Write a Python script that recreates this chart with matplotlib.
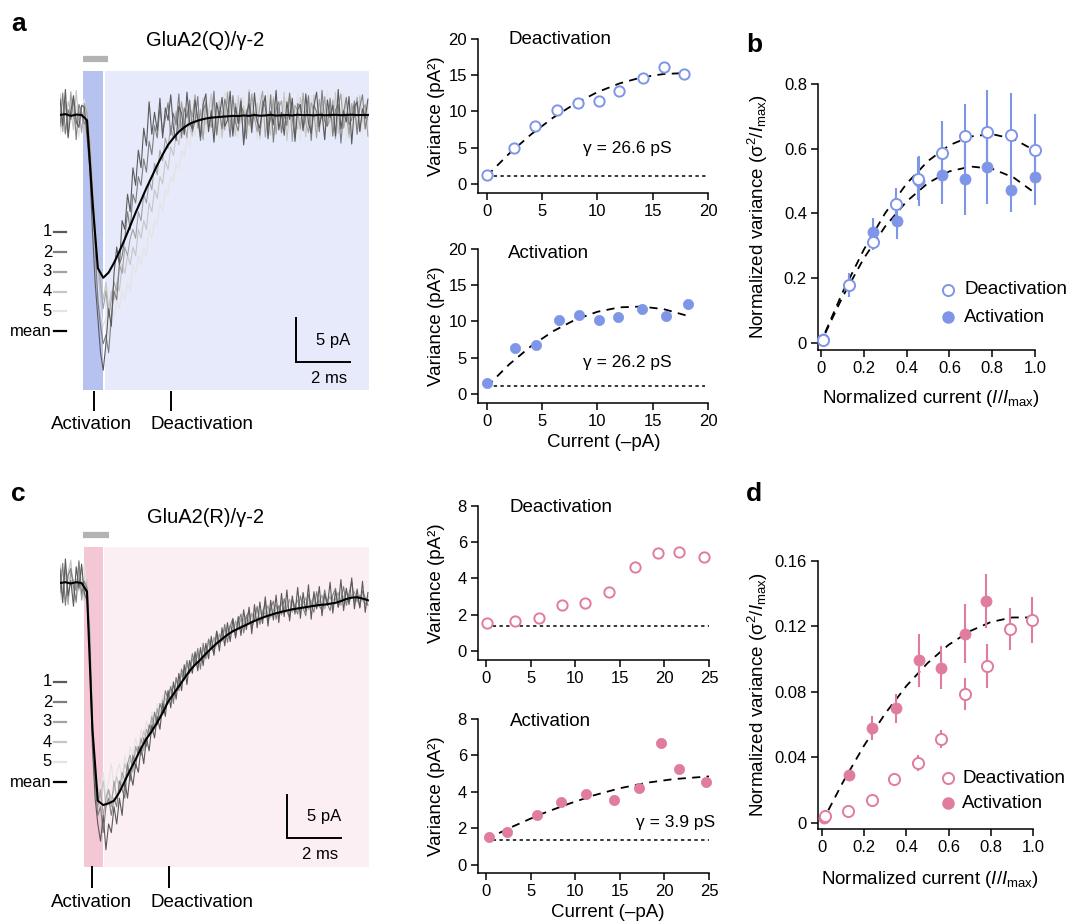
import numpy as np
import matplotlib
matplotlib.use("Agg")
import matplotlib.pyplot as plt
from matplotlib.lines import Line2D

plt.rcParams['font.family'] = ['Liberation Sans', 'DejaVu Sans']
plt.rcParams['mathtext.fontset'] = 'custom'
plt.rcParams['mathtext.rm'] = 'Liberation Sans'
plt.rcParams['mathtext.it'] = 'Liberation Sans:italic'
plt.rcParams['mathtext.sf'] = 'Liberation Sans'

# ---------------- data ----------------
DT_MEAN = 0.2   # ms per sample of the mean traces
DT_SWEEP = 0.1  # ms per sample of the single sweeps

# Panel a: GluA2(Q)/gamma-2 traces (pA)
trace_a_mean = [0, 0.1, -0.1, 0.05, 0,
                -0.6, -9.7, -17.4, -18.5, -17.9, -16.8, -15.5, -14.1, -12.6, -11.1, -9.7, -8.3, -7.0, -5.7, -4.5,
                -3.4, -2.6, -1.9, -1.4, -1.0, -0.75, -0.55, -0.4, -0.3, -0.25, -0.2,
                -0.15, -0.1, -0.12, -0.05, -0.1, 0.0, -0.08, -0.05, 0.02, -0.06, -0.03, 0.0, -0.05, 0.03,
                -0.02, 0.0, -0.04, 0.02, -0.03, 0.0, 0.02, -0.02, 0.0, 0.03, -0.01, 0.0, 0.01]
trace_a_sweep1 = [1.8, -1.2, 2.9, -2.6, 0.4, 2.2, -0.7, -1.4, 1.1, 0.9,
                  -2.4, -6, -13, -19, -23, -27, -29, -26, -22, -24,
                  -18, -15, -17, -12, -13, -9, -11, -6, -8, -4,
                  -6, -1.5, -3.5, 1.5, -2.2, 0.3, -1.8, 1.9, -2.6, 0.8,
                  -0.6, 2.3, -1.5, -2.9, 1.0, 0.2, -2.2, 2.6, -0.9, -1.6,
                  1.7, -0.4, -2.5, 1.2, 2.4, -1.9, 0.5, -3.1, 1.4, -0.2,
                  2.0, -1.3, -0.6, 2.7, -2.4, 0.9, -1.0, 1.6, -3.4, 0.1,
                  1.3, -2.0, 2.5, -0.8, -1.5, 0.7, 2.2, -2.7, 0.4, -1.1,
                  2.8, -1.7, 0.3, -2.3, 1.5, -0.5, 1.9, -3.0, 0.6, 1.2,
                  -1.8, 2.4, -0.9, -2.1, 1.0, 2.6, -1.3, 0.2, -2.8, 1.7,
                  -0.3, 1.1, -2.4, 2.9, -1.6, 0.5, -0.8, 2.1, -3.3, 0.9,
                  1.5, -1.9, 0.7, -0.4, 1.8]
trace_a_sweep2 = [-1.3, 2.5, -2.1, 0.6, -0.5, 1.9, -2.8, 1.2, 0.3, -1.0,
                  -0.8, -4, -9, -15, -21, -24, -26, -25, -27, -23,
                  -20, -21, -17, -16, -14, -11, -13, -9, -10, -7,
                  -8, -5, -6.5, -3, -4.5, -1.2, -2.6, 0.9, -2.1, -0.4,
                  1.4, -2.3, 0.2, -1.1, 2.4, -2.6, 0.8, -0.3, 1.7, -1.9,
                  -0.7, 2.1, -2.9, 0.6, 1.3, -1.4, -0.2, 2.7, -2.2, 0.4,
                  -1.6, 1.8, 0.5, -2.5, 2.2, -0.9, -1.8, 1.0, 0.3, -2.7,
                  2.6, -1.1, 0.2, -0.6, -2.3, 1.6, 0.9, -1.7, 2.3, -3.1,
                  0.7, 1.5, -2.0, 0.1, -1.2, 2.5, -0.4, -2.6, 1.3, 0.8,
                  -1.5, -0.2, 2.2, -2.9, 1.1, 0.4, -1.9, 2.8, -0.7, -1.3,
                  1.9, -2.4, 0.6, 1.2, -3.2, 0.3, 2.0, -1.1, -0.5, 1.6,
                  -2.2, 0.9, 2.3, -1.6, 0.0]
trace_a_sweep3 = [0.7, -1.9, 1.6, -2.4, 2.6, -0.3, -1.1, 0.8, -2.0, 1.3,
                  0.2, -3, -8, -13, -17, -19, -22, -20, -23, -21,
                  -19, -20, -17, -18, -15, -16, -14, -13, -14, -11,
                  -12, -9, -10, -7.5, -8.5, -5.5, -6.8, -4, -5.2, -2.6,
                  -3.8, -1.2, -2.7, 0.4, -1.8, 1.5, -0.9, -2.6, 1.1, -0.2,
                  2.3, -1.5, 0.6, -2.8, 1.7, -0.6, -1.4, 2.0, -2.3, 0.9,
                  0.2, -1.7, 2.6, -0.5, -2.1, 1.3, -0.8, 1.9, -2.9, 0.6,
                  -1.2, 2.4, -0.3, -1.9, 1.0, 2.7, -2.5, 0.1, -0.7, 1.8,
                  -2.2, 0.8, 1.6, -1.4, -0.1, 2.2, -3.0, 1.1, 0.5, -1.6,
                  2.5, -0.9, -2.0, 1.4, 0.3, -2.6, 1.8, -0.4, 2.1, -1.2,
                  -0.6, 1.7, -2.7, 0.9, 2.4, -1.5, 0.2, -2.2, 1.3, -0.3,
                  2.0, -1.8, 0.4, 1.2, -2.4]
trace_a_sweep4 = [2.4, -0.6, -2.2, 1.5, 0.4, -1.7, 2.8, -1.0, 0.1, -2.3,
                  1.0, -2, -7, -12, -16, -18, -21, -19, -22, -20,
                  -21, -19, -20, -17, -18, -16, -17, -15, -16, -13,
                  -14, -12, -13, -10, -11, -8.5, -9.5, -7, -7.8, -5.2,
                  -6.2, -3.6, -4.6, -2.2, -3.4, -0.8, -2.3, 0.6, -1.5, -2.4,
                  1.2, -0.5, -2.8, 1.9, -1.1, 0.3, 2.4, -2.0, -0.6, 1.6,
                  -2.6, 0.5, 1.7, -1.3, 0.0, -2.4, 2.2, -0.9, 1.0, -1.9,
                  2.9, -1.6, -0.3, 1.4, -2.7, 0.6, 1.9, -1.1, -2.3, 2.1,
                  -0.5, 0.9, -1.8, 2.6, -2.9, 0.4, 1.3, -0.7, -1.6, 2.0,
                  0.3, -2.5, 1.5, -0.8, 2.3, -1.3, -0.1, 1.8, -2.8, 0.7,
                  1.1, -1.4, 2.6, -2.1, 0.2, -0.9, 1.9, -2.6, 0.8, 0.4,
                  -1.7, 2.2, -0.6, -1.2, 1.4]
trace_a_sweep5 = [-2.1, 1.5, 0.2, -1.6, 2.7, -0.9, 1.1, -2.5, 0.6, 1.8,
                  -0.9, -4, -10, -15, -19, -22, -24, -23, -25, -22,
                  -23, -21, -22, -20, -21, -19, -20, -17, -18, -16,
                  -17, -15, -16, -13, -14, -12, -12.5, -10, -11, -8.5,
                  -9, -7, -7.5, -5.5, -6.2, -4, -4.8, -2.6, -3.5, -1.3,
                  -2.4, 0.2, -1.5, 1.6, -2.2, -0.4, 2.3, -1.2, 0.5, -2.7,
                  1.4, 2.6, -1.0, -2.1, 0.7, 1.6, -2.6, 0.2, 2.1, -0.8,
                  -1.9, 1.2, 0.4, -2.8, 2.4, -0.5, -1.3, 2.7, -2.0, 0.6,
                  1.7, -1.1, -2.4, 0.9, 2.0, -1.8, 0.3, -0.6, 2.5, -3.0,
                  1.0, 0.5, -1.7, 2.2, -0.9, -2.3, 1.6, 0.1, -1.2, 2.8,
                  -2.5, 0.7, 1.3, -1.0, -0.2, 2.4, -2.9, 1.1, 0.6, -1.5,
                  2.1, -0.7, -1.9, 1.5, 0.3]

# Panel c: GluA2(R)/gamma-2 traces (pA)
trace_c_mean = [0, 0.1, -0.05, 0.1, 0,
                -1.0, -17, -25.3, -25.8, -25.6, -25.3, -24.3, -23.0, -21.7, -20.5, -19.2, -18.1, -17.2, -16.2,
                -15.1, -13.8, -12.9, -12.0, -11.1, -10.2, -9.5, -8.9, -8.2, -7.6, -7.0, -6.5,
                -6.0, -5.6, -5.3, -5.0, -4.7, -4.4, -4.15, -3.9, -3.7, -3.5, -3.35, -3.2, -3.05, -2.95, -2.85,
                -2.75, -2.65, -2.55, -2.5, -2.4, -2.3, -2.1, -1.85, -1.7, -1.65, -1.8, -2.0]
trace_c_sweep1 = [1.6, -2.3, 2.8, -1.5, 0.3, -2.7, 1.9, -0.6, 2.2, -1.2,
                  -2.0, -8, -19, -25, -28, -30, -27, -31, -28, -29,
                  -26, -28, -25, -27, -23, -25, -22, -23.5, -21, -22,
                  -19, -21, -18, -19.5, -16.5, -18, -15.5, -17, -14, -15.5,
                  -12.5, -14.5, -11.5, -13.5, -10.5, -12.5, -9.5, -11.8, -9, -10.5,
                  -8, -10.2, -7.5, -9.6, -7, -8.8, -6.2, -8.4, -5.6, -7.9,
                  -5.2, -7.3, -4.6, -6.8, -4.2, -6.4, -3.9, -6.1, -3.1, -5.4,
                  -2.8, -5.9, -2.5, -5.2, -2.2, -4.7, -1.6, -5.0, -2.0, -4.3,
                  -1.4, -4.6, -1.2, -3.9, -0.8, -4.4, -1.5, -3.6, -0.5, -4.1,
                  -1.1, -3.3, -0.2, -4.2, -1.0, -3.0, -0.4, -3.8, -1.3, -2.6,
                  0.1, -3.5, -0.9, -2.8, 0.4, -3.2, -0.6, -2.5, 0.6, -3.0,
                  -0.7, -2.9, 0.2, -3.4, -1.1]
trace_c_sweep2 = [-1.1, 2.3, -2.6, 0.9, 1.7, -0.4, -2.2, 2.6, -1.3, 0.2,
                  -0.6, -6, -16, -23, -27, -26, -29, -26, -25, -27,
                  -25, -26, -23, -24, -25, -21, -23, -20, -21.5, -19,
                  -20, -18, -19, -16.5, -17.5, -15, -16.5, -14, -15, -12.5,
                  -13.5, -12, -14, -11, -12.5, -10, -11, -9, -10.5, -8.2,
                  -9.5, -7.6, -10, -7, -8.8, -6.5, -7.4, -8.2, -5.6, -7.0,
                  -6.6, -4.8, -6.9, -5.0, -4.1, -6.2, -4.5, -3.6, -5.8, -4.0,
                  -3.2, -5.3, -4.1, -2.7, -4.8, -3.5, -2.3, -4.6, -3.0, -2.1,
                  -4.2, -2.6, -3.7, -1.8, -3.3, -4.0, -1.9, -2.8, -3.6, -1.5,
                  -2.9, -3.8, -1.3, -2.5, -3.4, -1.0, -2.7, -3.1, -0.8, -2.4,
                  -3.2, -1.4, -0.6, -2.8, -1.9, -0.4, -2.6, -1.2, 0.2, -2.2,
                  -1.5, -2.8, -0.9, -1.7, -2.6]
trace_c_sweep3 = [0.5, -1.7, 1.9, -2.5, 1.4, 0.2, -0.9, 2.4, -2.0, -0.3,
                  -1.3, -7, -18, -24, -26, -24, -27, -25, -24, -26,
                  -23, -25, -24, -22, -23, -21, -20, -22, -19, -20,
                  -18, -19.5, -17, -17.8, -15.5, -16.8, -14.6, -15.8, -13.6, -14.5,
                  -13, -12.2, -13.5, -11, -12, -10.5, -11.2, -9.4, -10.4, -8.8,
                  -9.6, -8.2, -9.0, -7.6, -8.4, -6.8, -7.7, -6.3, -7.2, -5.9,
                  -6.8, -5.3, -6.2, -4.9, -5.6, -4.4, -5.3, -4.1, -4.9, -3.7,
                  -4.6, -3.5, -4.3, -2.9, -4.5, -3.3, -3.6, -2.6, -4.0, -3.1,
                  -2.5, -3.8, -2.2, -3.5, -2.8, -1.9, -3.4, -2.6, -2.0, -3.3,
                  -2.3, -1.7, -3.1, -2.4, -1.5, -2.9, -2.2, -1.4, -3.0, -2.0,
                  -1.6, -2.7, -1.9, -1.1, -2.6, -1.8, -0.9, -2.3, -1.5, -1.0,
                  -2.2, -1.4, -1.9, -2.5, -1.6]
trace_c_sweep4 = [2.1, -0.7, -2.3, 1.2, 2.6, -1.6, 0.5, -0.9, 1.8, -2.1,
                  0.4, -5, -15, -22, -24, -25, -23, -26, -24, -25,
                  -24, -22.5, -24, -23, -21, -22, -20.5, -21.5, -19, -19.8,
                  -18.5, -17.2, -18.3, -16.6, -16, -17, -15, -15.8, -14.3, -13.4,
                  -14, -12.6, -11.9, -12.8, -11.2, -10.6, -11.3, -9.9, -9.2, -10.1,
                  -9.0, -8.5, -9.1, -7.9, -7.4, -8.2, -7.0, -6.6, -7.4, -6.2,
                  -5.9, -6.5, -5.5, -5.1, -5.8, -4.8, -4.5, -5.3, -4.2, -4.0,
                  -4.7, -3.8, -3.6, -4.4, -3.4, -3.1, -4.0, -3.2, -2.8, -3.7,
                  -3.0, -2.7, -3.5, -2.8, -2.4, -3.3, -2.6, -2.3, -3.1, -2.5,
                  -2.2, -2.9, -2.4, -2.0, -2.8, -2.3, -1.9, -2.7, -2.2, -1.8,
                  -2.6, -2.0, -1.7, -2.4, -1.9, -1.5, -2.2, -1.6, -1.3, -2.0,
                  -1.7, -1.4, -2.1, -1.8, -2.3]
trace_c_sweep5 = [-1.9, 1.3, 0.6, -1.5, 2.7, -0.6, -2.4, 1.6, 0.1, 2.3,
                  -1.2, -7, -17, -21, -23, -24, -22, -25, -23, -21,
                  -24, -22, -21, -23, -20, -21.5, -19, -20, -18, -19.5,
                  -17, -18, -16, -17.2, -15, -16.5, -14, -15.2, -13, -14.4,
                  -12.4, -13.6, -11.4, -12.5, -10.6, -11.8, -9.8, -11, -9.2, -10.3,
                  -8.6, -9.8, -8.0, -9.2, -7.3, -8.5, -6.8, -8.0, -6.4, -7.3,
                  -5.8, -7.0, -5.3, -6.5, -4.8, -6.0, -4.6, -5.7, -4.2, -5.2,
                  -3.8, -5.0, -3.5, -4.6, -3.2, -4.4, -2.9, -4.1, -2.7, -3.8,
                  -2.6, -3.9, -2.3, -3.6, -2.1, -3.4, -2.0, -3.3, -1.8, -3.1,
                  -1.9, -3.2, -1.6, -3.0, -1.5, -2.9, -1.4, -2.8, -1.2, -2.6,
                  -1.3, -2.7, -1.1, -2.5, -0.9, -2.3, -0.8, -2.2, -1.0, -2.4,
                  -1.1, -2.6, -0.9, -2.3, -1.4]

sweep_labels = ['1', '2', '3', '4', '5', 'mean']

# Panel a, variance vs current
a_deact_I = [0.03, 2.42, 4.38, 6.31, 8.25, 10.18, 11.99, 14.08, 15.98, 17.82]
a_deact_var = [1.29, 4.92, 8.05, 10.25, 11.22, 11.45, 12.87, 14.57, 16.14, 15.13]
a_deact_fit_I = [0, 2, 4, 6, 8, 10, 12, 14, 16, 17.5]
a_deact_fit_var = [1.1, 4.16, 6.84, 9.15, 11.1, 12.67, 13.87, 14.71, 15.17, 15.27]
a_deact_base = 1.15
a_act_I = [0.03, 2.54, 4.47, 6.55, 8.33, 10.18, 11.9, 14.02, 16.19, 18.15]
a_act_var = [1.47, 6.31, 6.77, 10.23, 10.92, 10.23, 10.6, 11.75, 10.69, 12.44]
a_act_fit_I = [0, 2, 4, 6, 8, 10, 12, 14, 16, 18]
a_act_fit_var = [1.0, 4.05, 6.6, 8.66, 10.25, 11.34, 11.95, 12.06, 11.7, 10.84]
a_act_base = 1.1

# Panel c, variance vs current
c_deact_I = [0.11, 3.21, 5.9, 8.56, 11.1, 13.75, 16.74, 19.32, 21.64, 24.44]
c_deact_var = [1.54, 1.65, 1.83, 2.53, 2.62, 3.28, 4.62, 5.42, 5.44, 5.18]
c_act_I = [0.34, 2.39, 5.72, 8.37, 11.25, 14.35, 17.11, 19.66, 21.6, 24.7]
c_act_var = [1.54, 1.78, 2.73, 3.43, 3.91, 3.54, 4.22, 6.68, 5.23, 4.57]
c_act_fit_I = [0, 3, 6, 9, 12, 15, 18, 21, 25]
c_act_fit_var = [1.4, 2.1, 2.75, 3.3, 3.8, 4.2, 4.5, 4.7, 4.85]
c_base = 1.36

# Panel b, normalized
b_deact_x = [0.009, 0.129, 0.241, 0.349, 0.455, 0.567, 0.672, 0.778, 0.89, 1.0]
b_deact_y = [0.008, 0.179, 0.313, 0.429, 0.507, 0.588, 0.638, 0.651, 0.641, 0.597]
b_deact_err = [0.005, 0.036, 0.025, 0.049, 0.067, 0.098, 0.10, 0.13, 0.13, 0.11]
b_act_x = [0.009, 0.13, 0.245, 0.354, 0.458, 0.567, 0.672, 0.778, 0.89, 1.0]
b_act_y = [0.012, 0.18, 0.342, 0.378, 0.499, 0.519, 0.506, 0.543, 0.473, 0.512]
b_act_err = [0.005, 0.03, 0.045, 0.057, 0.077, 0.09, 0.11, 0.115, 0.07, 0.085]
b_fit_x = [0.02, 0.1, 0.2, 0.3, 0.4, 0.5, 0.6, 0.7, 0.8, 0.9, 1.0]
b_deact_fit = [0.033, 0.155, 0.288, 0.401, 0.492, 0.562, 0.611, 0.638, 0.645, 0.630, 0.594]
b_act_fit = [0.030, 0.141, 0.261, 0.360, 0.437, 0.494, 0.530, 0.545, 0.538, 0.511, 0.463]

# Panel d, normalized
d_deact_x = [0.016, 0.122, 0.235, 0.343, 0.453, 0.562, 0.676, 0.784, 0.893, 0.995]
d_deact_y = [0.0041, 0.0071, 0.0142, 0.0269, 0.0368, 0.0511, 0.0788, 0.0959, 0.1185, 0.1238]
d_deact_err = [0.001, 0.0015, 0.002, 0.002, 0.005, 0.0055, 0.0097, 0.0137, 0.013, 0.014]
d_act_x = [0.008, 0.128, 0.238, 0.35, 0.46, 0.563, 0.676, 0.778]
d_act_y = [0.003, 0.0291, 0.058, 0.070, 0.0993, 0.0949, 0.1156, 0.1354]
d_act_err = [0.001, 0.003, 0.0076, 0.0087, 0.016, 0.013, 0.018, 0.0165]
d_fit_x = [0.03, 0.1, 0.2, 0.3, 0.4, 0.5, 0.6, 0.7, 0.8, 0.9, 1.0]
d_act_fit = [0.0078, 0.0251, 0.0474, 0.0669, 0.0837, 0.0976, 0.1088, 0.1171, 0.1227, 0.1255, 0.1255]

# ---------------- styles ----------------
W, H = 1074, 922
BLUE = '#7f95e8'
PINK = '#e07c9c'
BLUE_DARK_SH = '#b6c2f0'
BLUE_LIGHT_SH = '#e7eafb'
PINK_DARK_SH = '#f3c7d4'
PINK_LIGHT_SH = '#fceff4'
SWEEP_COLORS = ['#5a5a5a', '#7e7e7e', '#a3a3a3', '#c6c6c6', '#e3e3e3']

fig = plt.figure(figsize=(W / 100, H / 100), dpi=100)


def add_ax(l, t, r, b):
    return fig.add_axes([l / W, 1 - b / H, (r - l) / W, (b - t) / H])


def ftext(x, y, s, **kw):
    fig.text(x / W, 1 - y / H, s, **kw)


def fline(xs, ys, **kw):
    fig.add_artist(Line2D([x / W for x in xs], [1 - y / H for y in ys],
                          transform=fig.transFigure, **kw))


def draw_trace(box, ylim, sweeps, mean, dark, light, pulse, gap, bar_y, bar_x,
               title, title_y, label_ys, scale_origin, marks_x, marks_y, text_y):
    ax = add_ax(*box)
    ax.set_xlim(0, 11.44)
    ax.set_ylim(*ylim)
    ax.axis('off')
    ax.axvspan(pulse[0], pulse[1], color=dark, lw=0, zorder=0)
    ax.axvspan(pulse[1] + gap, 11.44, color=light, lw=0, zorder=0)
    for s, c in zip(sweeps[::-1], SWEEP_COLORS[::-1]):
        t = np.arange(len(s)) * DT_SWEEP
        ax.plot(t, s, color=c, lw=0.8, zorder=2)
    t = np.arange(len(mean)) * DT_MEAN
    ax.plot(t, mean, color='black', lw=1.5, zorder=3)
    ax.plot(bar_x, [bar_y, bar_y], color='#b3b3b3', lw=4.5, solid_capstyle='butt',
            clip_on=False)
    # scale bar 5 pA / 2 ms
    x0, y0 = scale_origin
    ax.plot([x0, x0, x0 + 2], [y0 + 5, y0, y0], color='black', lw=1.4,
            solid_joinstyle='miter')
    ax.text(x0 + 0.72, y0 + 2.5, '5 pA', fontsize=12, ha='left', va='center')
    ax.text(x0 + 1.23, y0 - 1.9, '2 ms', fontsize=12, ha='center', va='center')
    ftext(205, title_y, title, fontsize=14.5, ha='center', va='center')
    for lab, y, c in zip(sweep_labels, label_ys, SWEEP_COLORS + ['black']):
        ftext(52, y, lab, fontsize=12, ha='right', va='center')
        fline([54, 66], [y, y], color=c, lw=1.6)
    for mx in marks_x:
        fline([mx, mx], marks_y, color='black', lw=1.4)
    ftext(92, text_y, 'Activation', fontsize=13.5, ha='center', va='center')
    ftext(202, text_y, 'Deactivation', fontsize=13.5, ha='center', va='center')
    return ax


def style_sc(ax, xlim, ylim, xticks, yticks, xtl=None, ytl=None, fs=12):
    ax.set_xlim(*xlim)
    ax.set_ylim(*ylim)
    for sp in ['top', 'right']:
        ax.spines[sp].set_visible(False)
    for sp in ['left', 'bottom']:
        ax.spines[sp].set_linewidth(1.1)
    ax.set_xticks(xticks)
    ax.set_yticks(yticks)
    if xtl is not None:
        ax.set_xticklabels(xtl)
    if ytl is not None:
        ax.set_yticklabels(ytl)
    ax.tick_params(direction='out', length=5, width=1.1, labelsize=fs, pad=3)
    ax.patch.set_alpha(0)


# ---------------- panel a traces ----------------
draw_trace((60, 71, 369, 390), (-31.25, 5.0),
           [trace_a_sweep1, trace_a_sweep2, trace_a_sweep3, trace_a_sweep4, trace_a_sweep5],
           trace_a_mean, BLUE_DARK_SH, BLUE_LIGHT_SH, (0.85, 1.61), 0.04, 6.4, [0.85, 1.78],
           'GluA2(Q)/γ-2', 40, [232, 252, 272, 292, 311, 331], (8.74, -28.07),
           [94, 171], [392, 410], 424)

# ---------------- panel c traces ----------------
draw_trace((60, 547, 369, 867), (-33.0, 4.19),
           [trace_c_sweep1, trace_c_sweep2, trace_c_sweep3, trace_c_sweep4, trace_c_sweep5],
           trace_c_mean, PINK_DARK_SH, PINK_LIGHT_SH, (0.89, 1.59), 0.04, 5.58, [0.85, 1.81],
           'GluA2(R)/γ-2', 517, [682, 702, 722, 742, 762, 782], (8.41, -29.65),
           [92, 169], [867, 887], 902)

MS_MID = 7.4
MEW = 1.4


def open_pts(ax, x, y, c, ms):
    ax.plot(x, y, 'o', ms=ms, mfc='white', mec=c, mew=MEW, ls='none', zorder=4, clip_on=False)


def filled_pts(ax, x, y, c, ms):
    ax.plot(x, y, 'o', ms=ms, mfc=c, mec=c, mew=0.5, ls='none', zorder=3, clip_on=False)


def fit_line(ax, x, y):
    ax.plot(x, y, color='black', lw=1.3, dashes=(4.5, 3.5), zorder=2)


def base_line(ax, y, x1):
    ax.plot([0, x1], [y, y], color='black', lw=1.1, dashes=(2.2, 2.2), zorder=2)


# ---------------- panel a: variance plots ----------------
ax = add_ax(478, 39, 708, 193)
style_sc(ax, (-0.8, 20), (-1.25, 20), [0, 5, 10, 15, 20], [0, 5, 10, 15, 20])
base_line(ax, a_deact_base, 19.9)
fit_line(ax, a_deact_fit_I, a_deact_fit_var)
open_pts(ax, a_deact_I, a_deact_var, BLUE, MS_MID)
ax.set_ylabel('Variance (pA²)', fontsize=13.5)
ax.yaxis.set_label_coords(-0.145, 0.5)
ftext(508, 39, 'Deactivation', fontsize=13.5, ha='left', va='center')
ftext(583, 148, 'γ = 26.6 pS', fontsize=12.5, ha='left', va='center')

ax = add_ax(478, 249, 708, 403)
style_sc(ax, (-0.8, 20), (-1.25, 20), [0, 5, 10, 15, 20], [0, 5, 10, 15, 20])
base_line(ax, a_act_base, 19.7)
fit_line(ax, a_act_fit_I, a_act_fit_var)
filled_pts(ax, a_act_I, a_act_var, BLUE, MS_MID)
ax.set_ylabel('Variance (pA²)', fontsize=13.5)
ax.yaxis.set_label_coords(-0.145, 0.5)
ax.set_xlabel('Current (–pA)', fontsize=13.5)
ax.xaxis.set_label_coords(0.545, -0.2)
ftext(508, 253, 'Activation', fontsize=13.5, ha='left', va='center')
ftext(583, 363, 'γ = 26.2 pS', fontsize=12.5, ha='left', va='center')

# ---------------- panel c: variance plots ----------------
ax = add_ax(478, 506, 709, 660)
style_sc(ax, (-0.9, 25), (-0.5, 8), [0, 5, 10, 15, 20, 25], [0, 2, 4, 6, 8])
base_line(ax, c_base, 25)
open_pts(ax, c_deact_I, c_deact_var, PINK, MS_MID)
ax.set_ylabel('Variance (pA²)', fontsize=13.5)
ax.yaxis.set_label_coords(-0.145, 0.5)
ftext(509, 508, 'Deactivation', fontsize=13.5, ha='left', va='center')

ax = add_ax(478, 719, 709, 873)
style_sc(ax, (-0.9, 25), (-0.45, 8), [0, 5, 10, 15, 20, 25], [0, 2, 4, 6, 8])
base_line(ax, c_base, 25)
fit_line(ax, c_act_fit_I, c_act_fit_var)
filled_pts(ax, c_act_I, c_act_var, PINK, MS_MID)
ax.set_ylabel('Variance (pA²)', fontsize=13.5)
ax.yaxis.set_label_coords(-0.145, 0.5)
ax.set_xlabel('Current (–pA)', fontsize=13.5)
ax.xaxis.set_label_coords(0.56, -0.2)
ftext(510, 722, 'Activation', fontsize=13.5, ha='left', va='center')
ftext(715, 822, 'γ = 3.9 pS', fontsize=12.5, ha='right', va='center')

# ---------------- panel b ----------------
MS_BIG = 8.0
ylab = 'Normalized variance (σ$^{2}$/$I_{\\rm max}$)'
xlab = 'Normalized current ($I$/$I_{\\rm max}$)'

ax = add_ax(818, 84, 1035, 350)
style_sc(ax, (-0.014, 1.0), (-0.022, 0.8), [0, 0.2, 0.4, 0.6, 0.8, 1.0], [0, 0.2, 0.4, 0.6, 0.8],
         ['0', '0.2', '0.4', '0.6', '0.8', '1.0'], ['0', '0.2', '0.4', '0.6', '0.8'])
fit_line(ax, b_fit_x, b_deact_fit)
fit_line(ax, b_fit_x, b_act_fit)
ax.errorbar(b_act_x, b_act_y, yerr=b_act_err, fmt='none', ecolor=BLUE, elinewidth=1.5, capsize=0,
            zorder=2.5, clip_on=False)
filled_pts(ax, b_act_x, b_act_y, BLUE, MS_BIG)
ax.errorbar(b_deact_x, b_deact_y, yerr=b_deact_err, fmt='none', ecolor=BLUE, elinewidth=1.5,
            capsize=0, zorder=3.5, clip_on=False)
open_pts(ax, b_deact_x, b_deact_y, BLUE, MS_BIG)
ax.set_ylabel(ylab, fontsize=13.5)
ax.yaxis.set_label_coords(-0.22, 0.5)
ax.set_xlabel(xlab, fontsize=13.5)
ax.xaxis.set_label_coords(0.52, -0.143)
fig.add_artist(Line2D([948 / W], [1 - 290 / H], transform=fig.transFigure, marker='o', ms=MS_BIG,
                      mfc='white', mec=BLUE, mew=MEW, ls='none'))
fig.add_artist(Line2D([948 / W], [1 - 317 / H], transform=fig.transFigure, marker='o', ms=MS_BIG,
                      mfc=BLUE, mec=BLUE, ls='none'))
ftext(964, 290, 'Deactivation', fontsize=13.5, ha='left', va='center')
ftext(964, 317, 'Activation', fontsize=13.5, ha='left', va='center')

# ---------------- panel d ----------------
ax = add_ax(818, 561, 1033, 829)
style_sc(ax, (-0.019, 1.0), (-0.0037, 0.16), [0, 0.2, 0.4, 0.6, 0.8, 1.0],
         [0, 0.04, 0.08, 0.12, 0.16],
         ['0', '0.2', '0.4', '0.6', '0.8', '1.0'], ['0', '0.04', '0.08', '0.12', '0.16'])
fit_line(ax, d_fit_x, d_act_fit)
ax.errorbar(d_act_x, d_act_y, yerr=d_act_err, fmt='none', ecolor=PINK, elinewidth=1.5, capsize=0,
            zorder=2.5, clip_on=False)
filled_pts(ax, d_act_x, d_act_y, PINK, MS_BIG)
ax.errorbar(d_deact_x, d_deact_y, yerr=d_deact_err, fmt='none', ecolor=PINK, elinewidth=1.5,
            capsize=0, zorder=3.5, clip_on=False)
open_pts(ax, d_deact_x, d_deact_y, PINK, MS_BIG)
ax.set_ylabel(ylab, fontsize=13.5)
ax.yaxis.set_label_coords(-0.223, 0.5)
ax.set_xlabel(xlab, fontsize=13.5)
ax.xaxis.set_label_coords(0.52, -0.149)
fig.add_artist(Line2D([948 / W], [1 - 778 / H], transform=fig.transFigure, marker='o', ms=MS_BIG,
                      mfc='white', mec=PINK, mew=MEW, ls='none'))
fig.add_artist(Line2D([948 / W], [1 - 803 / H], transform=fig.transFigure, marker='o', ms=MS_BIG,
                      mfc=PINK, mec=PINK, ls='none'))
ftext(962, 778, 'Deactivation', fontsize=13.5, ha='left', va='center')
ftext(962, 803, 'Activation', fontsize=13.5, ha='left', va='center')

# ---------------- panel letters ----------------
for lab, x, y in [('a', 11, 24), ('b', 746, 45), ('c', 11, 494), ('d', 746, 494)]:
    ftext(x, y, lab, fontsize=19, fontweight='bold', ha='left', va='center')

fig.savefig('out.png', dpi=100)
